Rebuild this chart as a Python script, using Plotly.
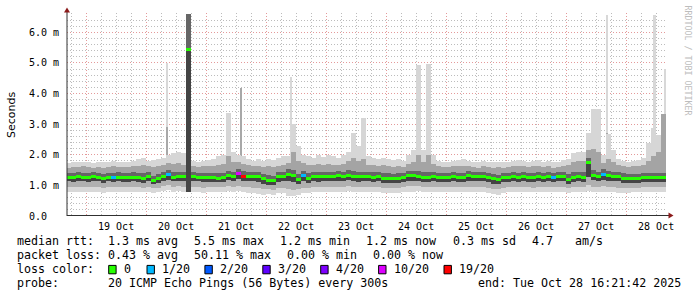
import numpy as np
import pandas as pd
import plotly.graph_objects as go

# ---------------- data ----------------
x_start = "2025-10-18 16:21:42"
x_end = "2025-10-28 16:21:42"
col_first = "2025-10-18 16:00"      # first 2-hour column
n_cols = 120

# median rtt per 2h column (ms)
med = [1.27, 1.27, 1.30, 1.27,
       1.27, 1.28, 1.27, 1.22, 1.27, 1.26, 1.27, 1.26, 1.26, 1.27, 1.25, 1.22,
       1.29, 1.15, 1.22, 1.30, 1.35, 1.27, 1.29, 1.28, 5.45, 1.29, 1.27, 1.26,
       1.27, 1.25, 1.24, 1.26, 1.32, 1.29, 1.40, 1.30, 1.29, 1.28, 1.29, 1.22,
       1.16, 1.15, 1.28, 1.29, 1.35, 1.32, 1.20, 1.32, 1.24, 1.29, 1.28, 1.30,
       1.29, 1.30, 1.31, 1.30, 1.33, 1.30, 1.28, 1.28, 1.29, 1.27, 1.28, 1.24,
       1.24, 1.23, 1.24, 1.25, 1.31, 1.31, 1.29, 1.27, 1.27, 1.28, 1.26, 1.27,
       1.27, 1.28, 1.26, 1.27, 1.31, 1.29, 1.30, 1.28, 1.27, 1.21, 1.18, 1.25,
       1.27, 1.28, 1.27, 1.29, 1.27, 1.26, 1.28, 1.27, 1.29, 1.27, 1.30, 1.29,
       1.19, 1.27, 1.28, 1.27, 1.75, 1.33, 1.29, 1.36, 1.31, 1.30, 1.28, 1.24,
       1.22, 1.23, 1.22, 1.25, 1.26, 1.25, 1.26, 1.26]

# lost pings (of 20) per column
loss = [0, 0, 0, 0,
        0, 0, 0, 0, 0, 1, 0, 0, 0, 0, 0, 0,
        0, 0, 0, 0, 1, 0, 0, 0, 0, 0, 0, 0,
        0, 0, 0, 0, 0, 0, 10, 19, 0, 0, 0, 0,
        0, 0, 0, 0, 0, 0, 0, 1, 0, 0, 0, 0,
        0, 0, 0, 0, 0, 0, 0, 0, 0, 0, 0, 0,
        0, 0, 0, 0, 0, 0, 0, 0, 0, 0, 0, 0,
        0, 0, 0, 0, 0, 0, 0, 0, 0, 0, 0, 0,
        0, 0, 0, 0, 0, 0, 0, 0, 0, 1, 0, 0,
        0, 0, 0, 0, 0, 0, 0, 1, 0, 0, 0, 0,
        0, 0, 0, 0, 0, 0, 0, 0]

# smoke: sorted-ping levels per column (ms)
p_min = [0.80, 0.78, 0.80, 0.79,
         0.78, 0.80, 0.78, 0.76, 0.79, 0.78, 0.80, 0.79, 0.78, 0.80, 0.80, 0.78,
         0.80, 0.76, 0.78, 0.82, 0.85, 0.80, 0.82, 0.80, 0.80, 0.78, 0.80, 0.76,
         0.78, 0.80, 0.78, 0.80, 0.82, 0.80, 0.82, 0.78, 0.76, 0.74, 0.72, 0.70,
         0.72, 0.70, 0.76, 0.74, 0.66, 0.66, 0.70, 0.75, 0.76, 0.78, 0.80, 0.78,
         0.80, 0.80, 0.79, 0.80, 0.82, 0.80, 0.78, 0.80, 0.79, 0.80, 0.78, 0.76,
         0.76, 0.74, 0.76, 0.78, 0.80, 0.80, 0.82, 0.80, 0.80, 0.78, 0.79, 0.78,
         0.78, 0.80, 0.79, 0.78, 0.80, 0.79, 0.80, 0.78, 0.76, 0.72, 0.70, 0.75,
         0.78, 0.79, 0.78, 0.80, 0.78, 0.77, 0.79, 0.78, 0.80, 0.78, 0.79, 0.80,
         0.76, 0.78, 0.80, 0.79, 0.82, 0.78, 0.77, 0.80, 0.79, 0.78, 0.76, 0.74,
         0.76, 0.78, 0.79, 0.78, 0.80, 0.79, 0.80, 0.80]

p_03 = [0.95, 0.94, 0.96, 0.95,
        0.94, 0.96, 0.95, 0.92, 0.95, 0.94, 0.96, 0.95, 0.94, 0.95, 0.94, 0.92,
        0.96, 0.90, 0.93, 0.97, 1.00, 0.95, 0.97, 0.96, 0.80, 0.95, 0.95, 0.93,
        0.94, 0.95, 0.94, 0.96, 0.98, 0.96, 0.98, 0.95, 0.94, 0.92, 0.90, 0.88,
        0.88, 0.86, 0.92, 0.92, 0.88, 0.86, 0.88, 0.92, 0.93, 0.95, 0.96, 0.95,
        0.96, 0.96, 0.95, 0.96, 0.98, 0.96, 0.95, 0.96, 0.95, 0.96, 0.95, 0.92,
        0.92, 0.91, 0.92, 0.94, 0.97, 0.97, 0.98, 0.96, 0.96, 0.95, 0.95, 0.94,
        0.94, 0.96, 0.95, 0.94, 0.96, 0.95, 0.96, 0.95, 0.93, 0.89, 0.87, 0.92,
        0.94, 0.95, 0.94, 0.96, 0.94, 0.93, 0.95, 0.94, 0.96, 0.94, 0.96, 0.96,
        0.90, 0.94, 0.96, 0.95, 1.00, 0.96, 0.94, 0.98, 0.96, 0.95, 0.93, 0.90,
        0.91, 0.93, 0.92, 0.94, 0.95, 0.94, 0.95, 0.95]

p_07 = [1.13, 1.12, 1.15, 1.13,
        1.12, 1.14, 1.13, 1.08, 1.13, 1.12, 1.13, 1.12, 1.12, 1.13, 1.11, 1.08,
        1.14, 1.03, 1.08, 1.15, 1.18, 1.13, 1.15, 1.14, 0.80, 1.14, 1.13, 1.11,
        1.12, 1.11, 1.10, 1.12, 1.16, 1.14, 1.20, 1.15, 1.14, 1.13, 1.12, 1.06,
        1.02, 1.00, 1.12, 1.13, 1.15, 1.12, 1.04, 1.15, 1.09, 1.13, 1.12, 1.14,
        1.13, 1.14, 1.15, 1.14, 1.16, 1.14, 1.12, 1.13, 1.13, 1.12, 1.13, 1.09,
        1.09, 1.08, 1.09, 1.10, 1.15, 1.15, 1.14, 1.12, 1.12, 1.13, 1.11, 1.12,
        1.12, 1.13, 1.11, 1.12, 1.15, 1.13, 1.14, 1.13, 1.12, 1.06, 1.03, 1.10,
        1.12, 1.13, 1.12, 1.14, 1.12, 1.11, 1.13, 1.12, 1.14, 1.12, 1.15, 1.14,
        1.04, 1.12, 1.13, 1.12, 1.28, 1.17, 1.13, 1.19, 1.15, 1.14, 1.13, 1.09,
        1.07, 1.08, 1.07, 1.10, 1.11, 1.10, 1.11, 1.11]

p_13 = [1.42, 1.41, 1.45, 1.42,
        1.42, 1.43, 1.42, 1.38, 1.42, 1.41, 1.43, 1.42, 1.41, 1.43, 1.42, 1.40,
        1.44, 1.32, 1.38, 1.45, 1.50, 1.43, 1.45, 1.44, 6.60, 1.44, 1.42, 1.41,
        1.42, 1.41, 1.40, 1.42, 1.48, 1.45, 1.55, 1.46, 1.44, 1.43, 1.44, 1.38,
        1.34, 1.32, 1.43, 1.45, 1.52, 1.50, 1.38, 1.48, 1.40, 1.44, 1.43, 1.45,
        1.44, 1.45, 1.46, 1.45, 1.49, 1.47, 1.44, 1.45, 1.44, 1.43, 1.44, 1.40,
        1.39, 1.38, 1.39, 1.40, 1.46, 1.47, 1.46, 1.43, 1.44, 1.43, 1.41, 1.42,
        1.42, 1.43, 1.41, 1.42, 1.46, 1.44, 1.45, 1.43, 1.42, 1.37, 1.34, 1.40,
        1.42, 1.43, 1.42, 1.44, 1.42, 1.41, 1.43, 1.42, 1.44, 1.42, 1.45, 1.44,
        1.36, 1.43, 1.44, 1.43, 1.90, 1.50, 1.45, 1.52, 1.46, 1.45, 1.43, 1.39,
        1.37, 1.38, 1.37, 1.40, 1.42, 1.42, 1.42, 1.41]

p_17 = [1.58, 1.60, 1.60, 1.62,
        1.60, 1.58, 1.61, 1.58, 1.60, 1.62, 1.60, 1.59, 1.60, 1.62, 1.64, 1.66,
        1.62, 1.60, 1.63, 1.66, 1.72, 1.70, 1.74, 1.68, 6.60, 1.62, 1.60, 1.62,
        1.62, 1.64, 1.68, 1.70, 1.95, 1.75, 1.75, 1.70, 1.65, 1.62, 1.64, 1.60,
        1.62, 1.60, 1.64, 1.68, 1.72, 2.10, 1.80, 1.72, 1.68, 1.66, 1.70, 1.66,
        1.70, 1.68, 1.66, 1.70, 1.80, 1.90, 1.80, 1.85, 1.68, 1.66, 1.64, 1.65,
        1.62, 1.60, 1.62, 1.60, 1.70, 1.75, 2.00, 1.75, 2.00, 1.70, 1.62, 1.60,
        1.60, 1.62, 1.63, 1.64, 1.62, 1.60, 1.58, 1.62, 1.60, 1.58, 1.60, 1.58,
        1.60, 1.62, 1.63, 1.62, 1.60, 1.62, 1.64, 1.60, 1.62, 1.58, 1.60, 1.63,
        1.65, 1.75, 1.80, 1.80, 2.15, 2.20, 2.10, 1.72, 1.85, 1.75, 1.66, 1.62,
        1.60, 1.62, 1.63, 1.68, 1.80, 1.95, 2.10, 3.32]

p_max = [1.74, 1.76, 1.75, 1.78,
         1.76, 1.74, 1.77, 1.75, 1.78, 1.80, 1.77, 1.76, 1.78, 1.80, 1.85, 1.90,
         1.80, 1.82, 1.85, 1.90, 2.00, 2.05, 2.10, 2.05, 6.60, 1.80, 1.78, 1.80,
         1.82, 1.85, 1.95, 2.00, 3.35, 2.10, 2.00, 1.95, 1.85, 1.80, 1.85, 1.80,
         1.85, 1.82, 1.88, 1.95, 1.95, 3.00, 2.30, 2.00, 1.95, 1.90, 2.00, 1.92,
         2.00, 1.95, 1.90, 2.00, 2.10, 2.70, 2.30, 3.20, 1.95, 1.90, 1.85, 1.90,
         1.85, 1.82, 1.85, 1.80, 2.00, 2.15, 4.92, 2.15, 4.98, 2.00, 1.80, 1.78,
         1.78, 1.80, 1.82, 1.85, 1.80, 1.78, 1.75, 1.80, 1.78, 1.76, 1.78, 1.75,
         1.78, 1.80, 1.82, 1.80, 1.78, 1.80, 1.82, 1.78, 1.80, 1.75, 1.78, 1.82,
         1.85, 2.05, 2.10, 2.10, 2.70, 3.50, 3.48, 2.00, 2.67, 2.15, 1.85, 1.80,
         1.78, 1.80, 1.82, 1.90, 2.37, 2.86, 2.63, 3.32]

# short single-sample spikes
spike_time = ["2025-10-20 08:28", "2025-10-21 14:05", "2025-10-22 09:51",
              "2025-10-27 16:15", "2025-10-28 11:21", "2025-10-28 15:27"]
spike_top = [5.00, 4.18, 4.55, 6.56, 6.56, 4.80]
spike_mid = [2.90, 4.18, 1.50, 2.70, 1.50, 1.50]

loss_levels = [0, 1, 2, 3, 4, 10, 19]
loss_labels = ["0", "1/20", "2/20", "3/20", "4/20", "10/20", "19/20"]
loss_colors = ["#26ff00", "#00b8ff", "#0059ff", "#5e00ff", "#7e00ff", "#dd00ff", "#ff0000"]

y_tick_vals = [0, 1, 2, 3, 4, 5, 6]
y_tick_text = ["0.0\u00a0\u00a0", "1.0 m", "2.0 m", "3.0 m", "4.0 m", "5.0 m", "6.0 m"]
day_label_vals = ["2025-10-%02d 12:00" % d for d in range(19, 29)]
day_label_text = ["%d Oct" % d for d in range(19, 29)]

row1 = [("median rtt:", 16), ("1.3 ms avg", 107.5), ("5.5 ms max", 193.5),
        ("1.2 ms min", 279.7), ("1.2 ms now", 365.9), ("0.3 ms sd", 452.1),
        ("4.7", 531), ("am/s", 574.5)]
row2 = [("packet loss:", 16), ("0.43 % avg", 107.5), ("50.11 % max", 193.5),
        ("0.00 % min", 286.7), ("0.00 % now", 372.9)]
row4 = [("probe:", 16), ("20 ICMP Echo Pings (56 Bytes) every 300s", 107.5)]
end_text = "end: Tue Oct 28 16:21:42 2025"

# ---------------- figure ----------------
W, H = 697, 297
PL, PT, PW, PH = 67, 13, 600, 203


def px(X):
    return (X - PL) / PW


def py(Y):
    return (PT + PH - Y) / PH


times = pd.date_range(col_first, periods=n_cols, freq="2h") + pd.Timedelta(hours=1)
col_w = 2 * 3600 * 1000

lv = [np.array(a, dtype=float) for a in (p_min, p_03, p_07, med, p_13, p_17, p_max)]
band_colors = ["#d8d8d8", "#b0b0b0", "#444444", "#666666", "#a4a4a4", "#d6d6d6"]

fig = go.Figure()

# spikes (drawn first, smoke covers their lower part)
st = np.array(spike_top)
sm = np.array(spike_mid)
fig.add_trace(go.Bar(x=spike_time, y=st - 1.5, base=[1.5] * len(st),
                     width=50 * 60 * 1000, marker=dict(color="#d8d8d8", line=dict(width=0)),
                     hoverinfo="skip", showlegend=False))
fig.add_trace(go.Bar(x=spike_time, y=sm - 1.5, base=[1.5] * len(sm),
                     width=50 * 60 * 1000, marker=dict(color="#a8a8a8", line=dict(width=0)),
                     hoverinfo="skip", showlegend=False))

for k in range(6):
    lo_, hi_ = lv[k], lv[k + 1]
    fig.add_trace(go.Bar(x=times, y=hi_ - lo_, base=lo_, width=col_w,
                         marker=dict(color=band_colors[k], line=dict(width=0)),
                         hoverinfo="skip", showlegend=False))

cmap = dict(zip(loss_levels, loss_colors))
med_a = np.array(med)
fig.add_trace(go.Bar(x=times, y=[0.1] * n_cols, base=med_a - 0.05, width=col_w,
                     marker=dict(color=[cmap[v] for v in loss], line=dict(width=0)),
                     hoverinfo="skip", showlegend=False))

# invisible trace to activate label axis
fig.add_trace(go.Scatter(x=[day_label_vals[0]], y=[0], xaxis="x2", mode="markers",
                         marker=dict(opacity=0), hoverinfo="skip", showlegend=False))

mono = "DejaVu Sans Mono"
fig.update_layout(
    width=W, height=H, autosize=False,
    margin=dict(l=PL, r=W - PL - PW, t=PT, b=H - PT - PH, pad=0),
    paper_bgcolor="white", plot_bgcolor="white",
    barmode="overlay", bargap=0, hovermode=False,
    xaxis=dict(type="date", range=[x_start, x_end], showline=False, zeroline=False,
               showgrid=True, gridcolor="#e49a9a", griddash="1px,2px", gridwidth=1,
               tick0="2025-10-19 00:00", dtick=86400000, ticks="", showticklabels=False,
               minor=dict(showgrid=True, dtick=6 * 3600 * 1000, tick0="2025-10-19 00:00",
                          gridcolor="#bcbcbc", griddash="1px,2px", gridwidth=1, ticks="")),
    xaxis2=dict(type="date", range=[x_start, x_end], overlaying="x", anchor="y", side="bottom",
                showgrid=False, zeroline=False, showline=False, ticks="",
                tickmode="array", tickvals=day_label_vals, ticktext=day_label_text,
                tickfont=dict(family=mono, size=10, color="#000000"), ticklabelstandoff=3),
    yaxis=dict(range=[0, 6.63], showline=False, zeroline=False,
               showgrid=True, gridcolor="#e49a9a", griddash="1px,2px", gridwidth=1,
               tickmode="array", tickvals=y_tick_vals, ticktext=y_tick_text, ticks="",
               tickfont=dict(family=mono, size=10, color="#000000"), ticklabelstandoff=7,
               minor=dict(showgrid=True, dtick=0.2, tick0=0, gridcolor="#bcbcbc",
                          griddash="1px,2px", gridwidth=1, ticks="")),
)

shapes = []
axis_col = "#303030"
arrow_col = "#8b1a1a"
shapes.append(dict(type="line", xref="paper", yref="paper", x0=px(67), x1=px(67),
                   y0=py(216), y1=py(11), line=dict(color=axis_col, width=1), layer="above"))
shapes.append(dict(type="line", xref="paper", yref="paper", x0=px(67), x1=px(670),
                   y0=py(215.5), y1=py(215.5), line=dict(color=axis_col, width=1), layer="above"))
shapes.append(dict(type="path", xref="paper", yref="paper",
                   path="M %f,%f L %f,%f L %f,%f Z" % (px(64), py(12.5), px(70), py(12.5), px(67), py(7.5)),
                   fillcolor=arrow_col, line=dict(width=0), layer="above"))
shapes.append(dict(type="path", xref="paper", yref="paper",
                   path="M %f,%f L %f,%f L %f,%f Z" % (px(668.5), py(212.5), px(668.5), py(218.5), px(673.5), py(215.5)),
                   fillcolor=arrow_col, line=dict(width=0), layer="above"))

# loss color legend boxes
box_x = [108.7, 147.0, 204.9, 262.8, 320.7, 378.6, 444.0]
for bx, col in zip(box_x, loss_colors):
    shapes.append(dict(type="rect", xref="paper", yref="paper",
                       x0=px(bx), x1=px(bx + 7.4), y0=py(273.8), y1=py(265.4),
                       fillcolor=col, line=dict(color="#000000", width=1), layer="above"))
fig.update_layout(shapes=shapes)

ann = []
row_y = [241.3, 255.3, 269.3, 283.3]
tfont = dict(family=mono, size=11.65, color="#000000")


def add_text(t, X, Y, anchor="left"):
    ann.append(dict(text=t, x=px(X), y=py(Y), xref="paper", yref="paper",
                    xanchor=anchor, yanchor="middle", showarrow=False, font=tfont, borderpad=0))


for t, X in row1:
    add_text(t, X - 0.5, row_y[0])
for t, X in row2:
    add_text(t, X - 0.5, row_y[1])
add_text("loss color:", 15.5, row_y[2])
for bx, lab in zip(box_x, loss_labels):
    add_text(lab, bx + 14.2, row_y[2])
for t, X in row4:
    add_text(t, X - 0.5, row_y[3])
add_text(end_text, 681.5, row_y[3], anchor="right")

ann.append(dict(text="Seconds", x=px(11), y=py(115), xref="paper", yref="paper",
                xanchor="center", yanchor="middle", textangle=-90, showarrow=False,
                font=dict(family="DejaVu Sans", size=11, color="#000000")))
ann.append(dict(text="RRDTOOL / TOBI OETIKER", x=px(687.5), y=py(60), xref="paper", yref="paper",
                xanchor="center", yanchor="middle", textangle=90, showarrow=False,
                font=dict(family=mono, size=8.3, color="#bdbdbd")))
fig.update_layout(annotations=ann)

fig.write_html("out.html")
